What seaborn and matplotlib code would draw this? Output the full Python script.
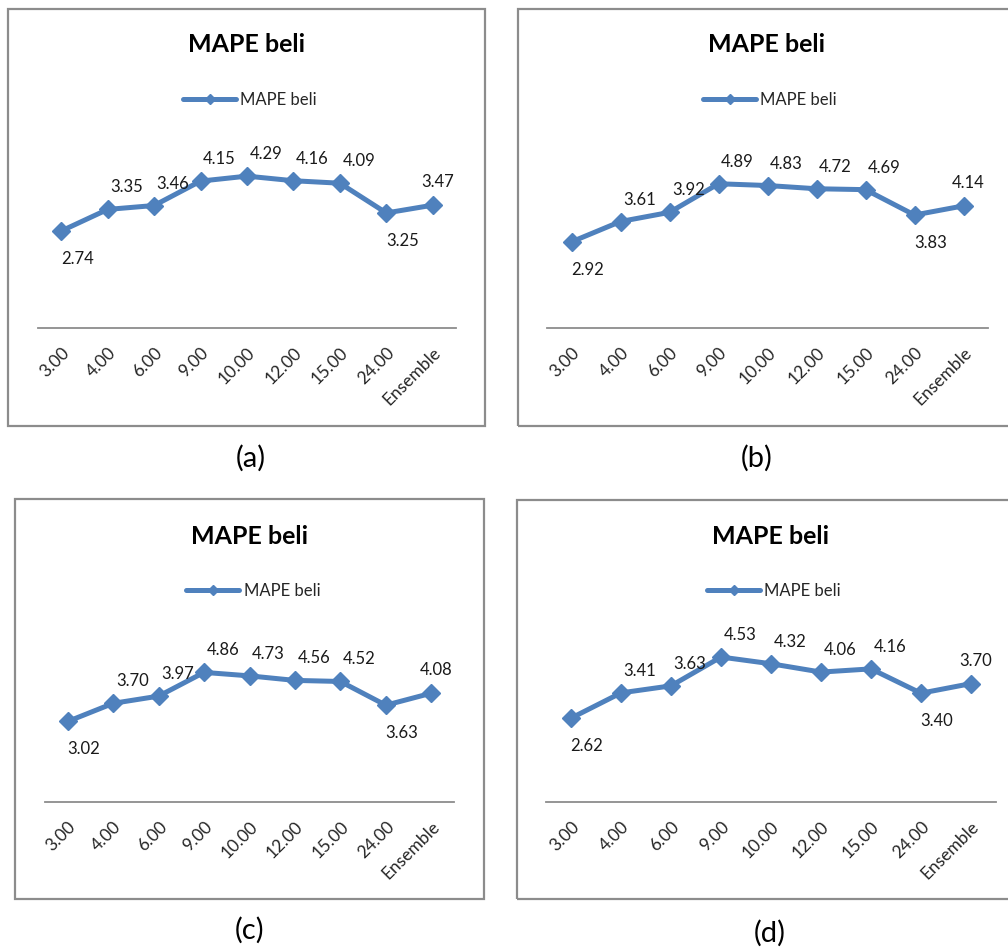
import pandas as pd
import numpy as np
import matplotlib
matplotlib.use('Agg')
import matplotlib.pyplot as plt
import seaborn as sns
from matplotlib.patches import Rectangle

# data
horizons = ['3.00', '4.00', '6.00', '9.00', '10.00', '12.00', '15.00', '24.00', 'Ensemble']
mape_a = [2.74, 3.35, 3.46, 4.15, 4.29, 4.16, 4.09, 3.25, 3.47]
mape_b = [2.92, 3.61, 3.92, 4.89, 4.83, 4.72, 4.69, 3.83, 4.14]
mape_c = [3.02, 3.70, 3.97, 4.86, 4.73, 4.56, 4.52, 3.63, 4.08]
mape_d = [2.62, 3.41, 3.63, 4.53, 4.32, 4.06, 4.16, 3.40, 3.70]
panel_tags = ['(a)', '(b)', '(c)', '(d)']
series_name = 'MAPE beli'

W, H = 1008, 949
BLUE = '#4F81BD'
GREY = '#8c8c8c'

sns.set_style('white')
plt.rcParams['font.family'] = ['Lato', 'DejaVu Sans']

fig = plt.figure(figsize=(W / 100, H / 100), dpi=100)

def fx(px):
    return px / W

def fy(py):
    return 1 - py / H

# pixel geometry of each panel (box, plot area, title, legend, tag, y max)
panels = [
    dict(vals=mape_a, box=(8, 9, 485, 426), plot=(38, 151, 456, 328), title=(247, 45),
         leg=(183, 100), tag=(251, 458), ymax=5),
    dict(vals=mape_b, box=(518, 9, 1012, 426), plot=(547, 151, 988, 328), title=(767, 45),
         leg=(703, 100), tag=(757, 458), ymax=6),
    dict(vals=mape_c, box=(15, 499, 484, 899), plot=(45, 642, 454, 802), title=(250, 537),
         leg=(186, 591), tag=(250, 930), ymax=6),
    dict(vals=mape_d, box=(517, 500, 1012, 899), plot=(546, 642, 996, 802), title=(771, 537),
         leg=(707, 591), tag=(770, 933), ymax=5),
]

below = [0, 7]

for p, tag in zip(panels, panel_tags):
    x0, y0, x1, y1 = p['box']
    fig.add_artist(Rectangle((fx(x0), fy(y1)), fx(x1 - x0), (y1 - y0) / H,
                             transform=fig.transFigure, fill=False,
                             edgecolor=GREY, lw=1.6))

    px0, py0, px1, py1 = p['plot']
    ax = fig.add_axes([fx(px0), fy(py1), fx(px1 - px0), (py1 - py0) / H])
    df = pd.DataFrame({'horizon': horizons, 'mape': p['vals']})
    df['pos'] = np.arange(len(df))
    sns.lineplot(data=df, x='pos', y='mape', ax=ax, color=BLUE, lw=3.6,
                 marker='D', markersize=9, markeredgecolor=BLUE, markeredgewidth=1,
                 label=series_name, sort=False)
    ax.set_xlim(-0.5, len(horizons) - 0.5)
    ax.set_ylim(0, p['ymax'])
    ax.set_xticks(df['pos'])
    ax.set_xticklabels(horizons, rotation=45, ha='right', rotation_mode='anchor', fontsize=12.5)
    ax.tick_params(axis='x', length=0, pad=12)
    ax.set_yticks([])
    ax.set_xlabel('')
    ax.set_ylabel('')
    for s in ['top', 'left', 'right']:
        ax.spines[s].set_visible(False)
    ax.spines['bottom'].set_color(GREY)
    ax.spines['bottom'].set_linewidth(1.3)
    ax.patch.set_alpha(0)

    for i, v in enumerate(p['vals']):
        if i in below:
            off = (16, -28)
        elif i == len(horizons) - 1:
            off = (5, 23)
        else:
            off = (19, 22)
        ax.annotate(f'{v:.2f}', (i, v), xytext=off, textcoords='offset pixels',
                    ha='center', va='center', fontsize=12, color='#1a1a1a')

    leg = ax.legend(loc='center left', bbox_to_anchor=(fx(p['leg'][0]), fy(p['leg'][1])),
                    bbox_transform=fig.transFigure, frameon=False, fontsize=12,
                    handlelength=3.2, handletextpad=0.25, borderpad=0, borderaxespad=0,
                    markerscale=0.6)

    fig.text(fx(p['title'][0]), fy(p['title'][1]), series_name, ha='center', va='center',
             fontsize=18, fontweight='bold', color='black')
    fig.text(fx(p['tag'][0]), fy(p['tag'][1]), tag, ha='center', va='center',
             fontsize=21, color='black')

fig.savefig('out.png', dpi=100)
